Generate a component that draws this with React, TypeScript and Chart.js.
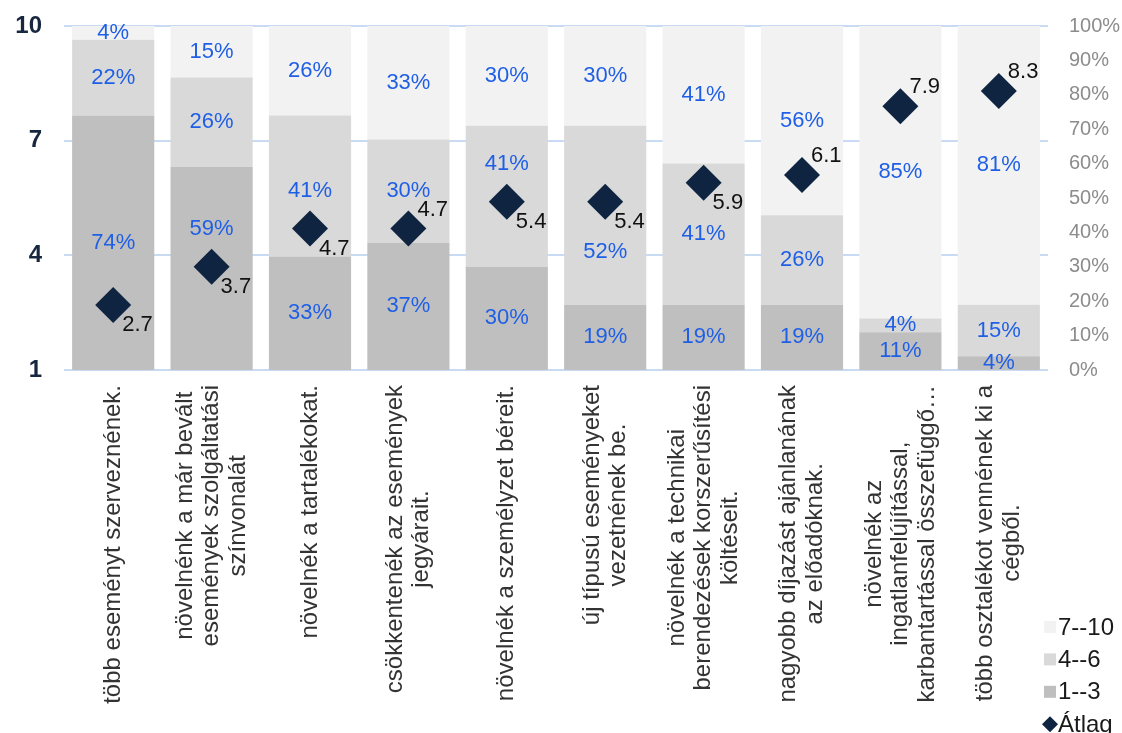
import React, { useEffect, useRef } from 'react';
import { Chart, registerables } from 'chart.js';

Chart.register(...registerables);

const FONT = '"Liberation Sans", Arial, sans-serif';

const categories: string[][] = [
  ['több eseményt szerveznének.'],
  ['növelnénk a már bevált', 'események szolgáltatási', 'színvonalát'],
  ['növelnék a tartalékokat.'],
  ['csökkentenék az események', 'jegyárait.'],
  ['növelnék a személyzet béreit.'],
  ['új típusú eseményeket', 'vezetnének be.'],
  ['növelnék a technikai', 'berendezések korszerűsítési', 'költéseit.'],
  ['nagyobb díjazást ajánlanának', 'az előadóknak.'],
  ['növelnék az', 'ingatlanfelújítással,', 'karbantartással összefüggő…'],
  ['több osztalékot vennének ki a', 'cégből.'],
];

const share1to3 = [74, 59, 33, 37, 30, 19, 19, 19, 11, 4];
const share4to6 = [22, 26, 41, 30, 41, 52, 41, 26, 4, 15];
const share7to10 = [4, 15, 26, 33, 30, 30, 41, 56, 85, 81];
const averages = [2.7, 3.7, 4.7, 4.7, 5.4, 5.4, 5.9, 6.1, 7.9, 8.3];

const seriesLabels = ['1--3', '4--6', '7--10', 'Átlag'];
const leftAxisTicks = [1, 4, 7, 10];
const rightAxisMax = 100;

// label placement (style): whether the average's value label sits above the diamond
const averageLabelAbove = [false, false, false, true, false, false, false, true, true, true];

const COLORS = {
  low: '#bfbfbf',
  mid: '#d9d9d9',
  high: '#f2f2f2',
  avg: '#0f2440',
  grid: '#c9dbf3',
  pct: '#1f5fe6',
};

const valueLabelsPlugin = {
  id: 'valueLabels',
  afterDatasetsDraw(chart: any) {
    const ctx = chart.ctx;
    const area = chart.chartArea;
    const avgMeta = chart.getDatasetMeta(0);
    ctx.save();
    ctx.font = `22px ${FONT}`;
    ctx.fillStyle = COLORS.pct;
    ctx.textAlign = 'center';
    ctx.textBaseline = 'middle';
    for (let d = 1; d <= 3; d++) {
      const meta = chart.getDatasetMeta(d);
      const values = chart.data.datasets[d].data as number[];
      meta.data.forEach((el: any, i: number) => {
        const { x, y, base } = el.getProps(['x', 'y', 'base'], true);
        const top = Math.max(y, area.top);
        let cy = (top + base) / 2;
        const dy = avgMeta.data[i].y;
        if (Math.abs(cy - dy) < 45) cy = cy < dy + 8 ? dy - 38 : dy + 50;
        ctx.fillText(values[i] + '%', x, cy);
      });
    }
    ctx.fillStyle = '#111111';
    ctx.textAlign = 'left';
    avgMeta.data.forEach((pt: any, i: number) => {
      const yy = pt.y + (averageLabelAbove[i] ? -19 : 20);
      ctx.fillText(averages[i].toFixed(1), pt.x + 9, yy);
    });
    ctx.restore();
  },
};

const xLabelsPlugin = {
  id: 'xLabels',
  afterDraw(chart: any) {
    const ctx = chart.ctx;
    const xs = chart.scales.x;
    const top = chart.chartArea.bottom + 15;
    const lh = 26.5;
    ctx.save();
    ctx.font = `24px ${FONT}`;
    ctx.fillStyle = '#333333';
    ctx.textAlign = 'center';
    ctx.textBaseline = 'middle';
    (chart.data.labels as string[][]).forEach((lines, i) => {
      const x = xs.getPixelForValue(i);
      const w = Math.max(...lines.map((l) => ctx.measureText(l).width));
      ctx.save();
      ctx.translate(x, top);
      ctx.rotate(-Math.PI / 2);
      lines.forEach((line, k) => {
        ctx.fillText(line, -w / 2, (k - (lines.length - 1) / 2) * lh);
      });
      ctx.restore();
    });
    ctx.restore();
  },
};

const legendPlugin = {
  id: 'sideLegend',
  afterDraw(chart: any) {
    const ctx = chart.ctx;
    const ds = chart.data.datasets;
    const items = [ds[3], ds[2], ds[1], ds[0]];
    const boxLeft = chart.chartArea.right - 4;
    const textLeft = chart.chartArea.right + 10;
    const rowGap = 32.4;
    const firstY = chart.height - 106;
    ctx.save();
    ctx.font = `24px ${FONT}`;
    ctx.textAlign = 'left';
    ctx.textBaseline = 'middle';
    items.forEach((item: any, k: number) => {
      const cy = firstY + k * rowGap;
      if (item.type === 'line') {
        const cx = boxLeft + 6;
        const r = 8;
        ctx.fillStyle = item.backgroundColor;
        ctx.beginPath();
        ctx.moveTo(cx - r, cy);
        ctx.lineTo(cx, cy - r);
        ctx.lineTo(cx + r, cy);
        ctx.lineTo(cx, cy + r);
        ctx.closePath();
        ctx.fill();
      } else {
        ctx.fillStyle = item.backgroundColor;
        ctx.fillRect(boxLeft, cy - 6, 12, 12);
      }
      ctx.fillStyle = '#1a1a1a';
      ctx.fillText(item.label, textLeft, cy + 1);
    });
    ctx.restore();
  },
};

const noVerticalPadding = (s: any) => {
  s.paddingTop = 0;
  s.paddingBottom = 0;
};

export default function App() {
  const canvasRef = useRef<HTMLCanvasElement | null>(null);

  useEffect(() => {
    document.body.style.margin = '0';
    document.body.style.overflow = 'hidden';
    const canvas = canvasRef.current;
    if (!canvas) return;
    const chart = new Chart(canvas, {
      type: 'bar',
      data: {
        labels: categories as any,
        datasets: [
          {
            type: 'line',
            label: seriesLabels[3],
            data: averages,
            yAxisID: 'y',
            showLine: false,
            pointStyle: 'rectRot',
            pointRadius: 18,
            pointHoverRadius: 18,
            backgroundColor: COLORS.avg,
            borderColor: COLORS.avg,
            borderWidth: 0,
            order: 0,
          } as any,
          {
            type: 'bar',
            label: seriesLabels[0],
            data: share1to3,
            yAxisID: 'y2',
            backgroundColor: COLORS.low,
            borderWidth: 0,
            barPercentage: 0.835,
            categoryPercentage: 1,
            clip: 0,
            order: 1,
          } as any,
          {
            type: 'bar',
            label: seriesLabels[1],
            data: share4to6,
            yAxisID: 'y2',
            backgroundColor: COLORS.mid,
            borderWidth: 0,
            barPercentage: 0.835,
            categoryPercentage: 1,
            clip: 0,
            order: 1,
          } as any,
          {
            type: 'bar',
            label: seriesLabels[2],
            data: share7to10,
            yAxisID: 'y2',
            backgroundColor: COLORS.high,
            borderWidth: 0,
            barPercentage: 0.835,
            categoryPercentage: 1,
            clip: 0,
            order: 1,
          } as any,
        ],
      },
      options: {
        responsive: false,
        animation: false,
        layout: { padding: { top: 26, left: 0, right: 0, bottom: 0 } },
        plugins: {
          legend: { display: false },
          tooltip: { enabled: false },
        },
        scales: {
          x: {
            stacked: true,
            grid: { display: false },
            border: { display: false },
            ticks: { display: false },
            afterFit: (s: any) => {
              s.height = 363;
            },
          },
          y: {
            position: 'left',
            min: leftAxisTicks[0],
            max: leftAxisTicks[leftAxisTicks.length - 1],
            afterBuildTicks: (s: any) => {
              s.ticks = leftAxisTicks.map((v) => ({ value: v }));
            },
            grid: { color: COLORS.grid, lineWidth: 2, drawTicks: false },
            border: { display: false },
            ticks: {
              color: '#17273f',
              padding: 22,
              font: { family: FONT, size: 24, weight: 'bold' },
            },
            afterFit: (s: any) => {
              s.width = 64;
              noVerticalPadding(s);
            },
          },
          y2: {
            position: 'right',
            stacked: true,
            min: 0,
            max: rightAxisMax,
            grid: { display: false, drawTicks: false },
            border: { display: false },
            ticks: {
              stepSize: 10,
              color: '#8c8c8c',
              padding: 21,
              font: { family: FONT, size: 20 },
              callback: (v: any) => v + '%',
            },
            afterFit: (s: any) => {
              s.width = 74;
              noVerticalPadding(s);
            },
          },
        } as any,
      },
      plugins: [valueLabelsPlugin, xLabelsPlugin, legendPlugin],
    });
    return () => chart.destroy();
  }, []);

  return (
    <div style={{ width: 1122, height: 733, background: '#ffffff' }}>
      <canvas ref={canvasRef} width={1122} height={733} style={{ width: 1122, height: 733, display: 'block' }} />
    </div>
  );
}
